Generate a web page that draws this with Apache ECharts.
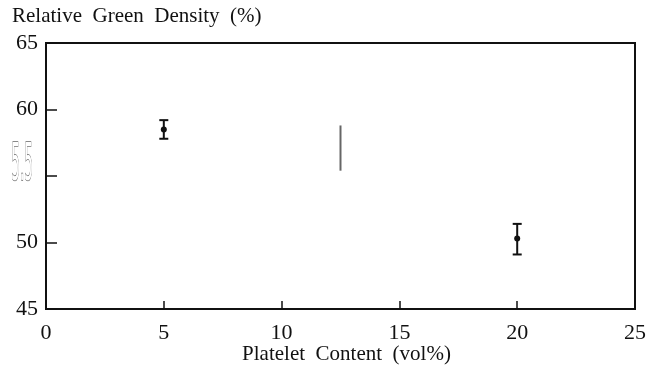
<!DOCTYPE html>
<html>
<head>
<meta charset="utf-8">
<script src="https://cdn.jsdelivr.net/npm/echarts@6/dist/echarts.min.js"></script>
<style>
  html, body { margin: 0; padding: 0; background: #fff; }
  #chart { width: 646px; height: 366px; }
</style>
</head>
<body>
<div id="chart"></div>
<script>
// Platelet content (vol%) and relative green density (%) with error bars
const platelet = [5, 20];
const density = [58.5, 50.3];
const densityLow = [57.8, 49.1];
const densityHigh = [59.2, 51.4];

// Stray vertical range mark
const markX = [12.5];
const markLow = [55.4];
const markHigh = [58.8];

const xTicks = [0, 5, 10, 15, 20, 25];
const yTicks = [45, 50, 55, 60, 65];

const serif = 'Liberation Serif';

const chart = echarts.init(document.getElementById('chart'));

function errorBar(params, api) {
  const x = api.value(0);
  const lo = api.coord([x, api.value(1)]);
  const hi = api.coord([x, api.value(2)]);
  const mid = api.coord([x, api.value(3)]);
  const cap = 4.5;
  const style = { stroke: '#111', lineWidth: 2 };
  return {
    type: 'group',
    children: [
      { type: 'line', shape: { x1: lo[0], y1: lo[1], x2: hi[0], y2: hi[1] }, style: style },
      { type: 'line', shape: { x1: lo[0] - cap, y1: lo[1], x2: lo[0] + cap, y2: lo[1] }, style: style },
      { type: 'line', shape: { x1: hi[0] - cap, y1: hi[1], x2: hi[0] + cap, y2: hi[1] }, style: style },
      { type: 'circle', shape: { cx: mid[0], cy: mid[1], r: 3 }, style: { fill: '#111' } }
    ]
  };
}

function plainRange(params, api) {
  const x = api.value(0);
  const lo = api.coord([x, api.value(1)]);
  const hi = api.coord([x, api.value(2)]);
  return {
    type: 'line',
    shape: { x1: lo[0], y1: lo[1], x2: hi[0], y2: hi[1] },
    style: { stroke: '#666', lineWidth: 2 }
  };
}

// The 55 tick label is drawn separately as a tall, narrow outlined glyph
const oddTick = 55;

chart.setOption({
  backgroundColor: '#fff',
  animation: false,
  grid: {
    left: 46, right: 11, top: 43, bottom: 57,
    outerBoundsMode: 'none', containLabel: false,
    show: true, borderColor: '#111', borderWidth: 2
  },
  xAxis: {
    type: 'value',
    min: xTicks[0],
    max: xTicks[xTicks.length - 1],
    interval: 5,
    name: 'Platelet  Content  (vol%)',
    nameLocation: 'middle',
    nameGap: 35,
    nameMoveOverlap: false,
    nameTextStyle: { fontFamily: serif, fontSize: 21, color: '#111', padding: [0, 0, 0, 12] },
    axisLine: { lineStyle: { color: '#111', width: 2 } },
    axisTick: { inside: true, length: 8, lineStyle: { color: '#111', width: 1.5 } },
    axisLabel: { fontFamily: serif, fontSize: 22, color: '#111', margin: 13 },
    splitLine: { show: false }
  },
  yAxis: {
    type: 'value',
    min: yTicks[0],
    max: yTicks[yTicks.length - 1],
    interval: 5,
    axisLine: { lineStyle: { color: '#111', width: 2 } },
    axisTick: { inside: true, length: 11, lineStyle: { color: '#111', width: 1.5 } },
    axisLabel: {
      fontFamily: serif, fontSize: 22, color: '#111', margin: 8,
      formatter: function (v) { return v === oddTick ? '' : String(v); }
    },
    splitLine: { show: false }
  },
  series: [
    {
      type: 'custom',
      renderItem: errorBar,
      encode: { x: 0, y: [1, 2, 3] },
      data: platelet.map((x, i) => [x, densityLow[i], densityHigh[i], density[i]])
    },
    {
      type: 'custom',
      renderItem: plainRange,
      encode: { x: 0, y: [1, 2] },
      data: markX.map((x, i) => [x, markLow[i], markHigh[i]])
    }
  ]
});

const oddY = chart.convertToPixel({ yAxisIndex: 0 }, oddTick);
chart.setOption({
  graphic: [
    {
      type: 'text', left: 12, top: 6,
      style: { text: 'Relative  Green  Density  (%)', font: '21px "Liberation Serif"', fill: '#111' }
    },
    {
      type: 'text', x: 33, y: oddY - 9, scaleX: 0.36, scaleY: 1.35,
      style: {
        text: '5.5', font: '38px "DejaVu Sans"', fill: '#fff', stroke: '#666', lineWidth: 1.1,
        strokeNoScale: true, align: 'right', verticalAlign: 'middle'
      }
    }
  ]
});
</script>
</body>
</html>
